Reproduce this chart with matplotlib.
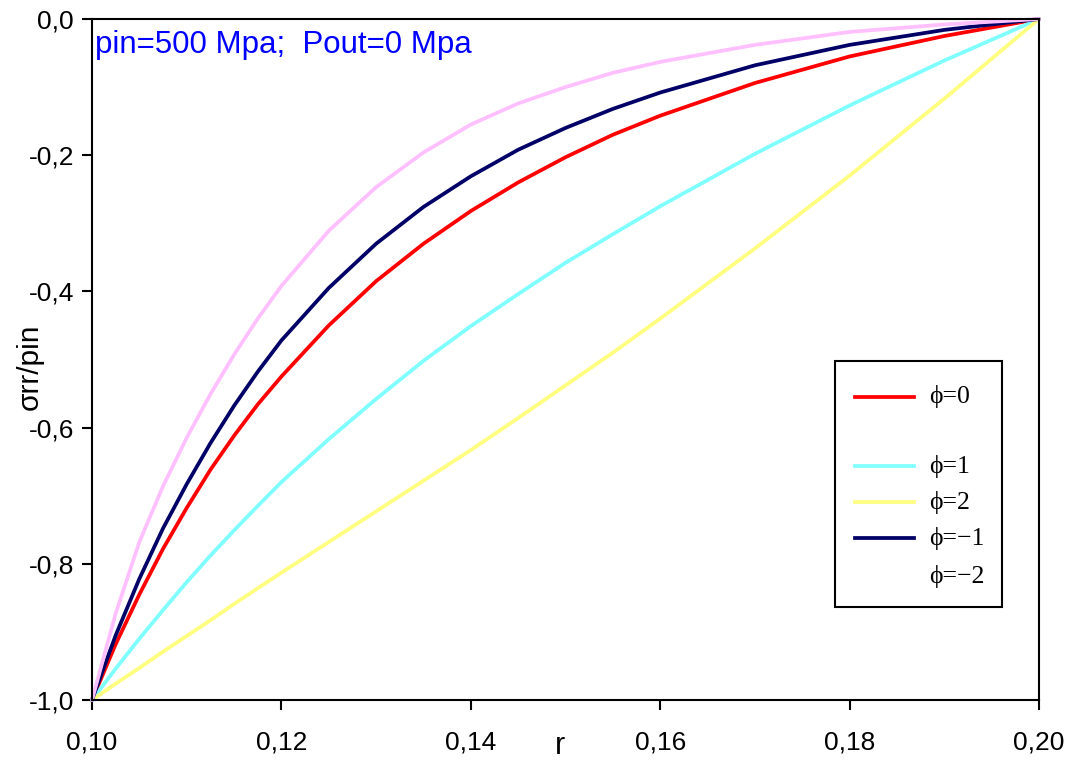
import matplotlib
matplotlib.use("Agg")
import matplotlib.pyplot as plt
from matplotlib.lines import Line2D
from matplotlib.patches import Rectangle

# ---- data ----
r = [0.100, 0.1025, 0.105, 0.1075, 0.110, 0.1125, 0.115, 0.1175, 0.120,
     0.125, 0.130, 0.135, 0.140, 0.145, 0.150, 0.155, 0.160,
     0.170, 0.180, 0.190, 0.200]
phi_0 = [-1.0, -0.918, -0.845, -0.778, -0.718, -0.662, -0.612, -0.566, -0.525,
         -0.450, -0.385, -0.330, -0.282, -0.240, -0.203, -0.170, -0.142,
         -0.094, -0.055, -0.025, 0.0]
phi_1 = [-1.0, -0.954, -0.910, -0.868, -0.827, -0.788, -0.751, -0.715, -0.680,
         -0.617, -0.558, -0.502, -0.451, -0.404, -0.358, -0.316, -0.275,
         -0.198, -0.127, -0.061, 0.0]
phi_2 = [-1.0, -0.976, -0.953, -0.929, -0.906, -0.883, -0.859, -0.836, -0.813,
         -0.768, -0.723, -0.678, -0.633, -0.586, -0.538, -0.490, -0.440,
         -0.337, -0.230, -0.117, 0.0]
phi_m1 = [-1.0, -0.905, -0.822, -0.748, -0.683, -0.623, -0.568, -0.518, -0.472,
          -0.395, -0.330, -0.276, -0.231, -0.192, -0.160, -0.132, -0.108,
          -0.068, -0.038, -0.016, 0.0]
phi_m2 = [-1.0, -0.873, -0.768, -0.686, -0.615, -0.551, -0.493, -0.440, -0.392,
          -0.311, -0.247, -0.196, -0.155, -0.124, -0.100, -0.079, -0.063,
          -0.038, -0.019, -0.008, 0.0]

series_labels = ["ϕ=0", "ϕ=1", "ϕ=2", "ϕ=−1", "ϕ=−2"]
series_values = [phi_0, phi_1, phi_2, phi_m1, phi_m2]
series_colors = ["#FF0000", "#80FFFF", "#FFFF80", "#000066", "#FFC0FF"]

x_ticks = [0.10, 0.12, 0.14, 0.16, 0.18, 0.20]
x_tick_labels = ["0,10", "0,12", "0,14", "0,16", "0,18", "0,20"]
y_ticks = [-1.0, -0.8, -0.6, -0.4, -0.2, 0.0]
y_tick_labels = ["-1,0", "-0,8", "-0,6", "-0,4", "-0,2", "0,0"]

title_text = "pin=500 Mpa;  Pout=0 Mpa"

# ---- figure ----
W, H = 1068, 760
fig = plt.figure(figsize=(W / 100, H / 100), dpi=100)
fig.patch.set_facecolor("white")

def fx(px):
    return px / W

def fy(py):
    return 1 - py / H

L, R, T, B = 92, 1039, 19, 700
ax = fig.add_axes([fx(L), fy(B), fx(R) - fx(L), fy(T) - fy(B)])

sans = ["Liberation Sans", "DejaVu Sans"]
serif = ["Liberation Serif", "DejaVu Serif"]

for vals, col in zip(series_values, series_colors):
    ax.plot(r, vals, color=col, lw=2.7, solid_capstyle="round",
            solid_joinstyle="round", clip_on=False)

ax.set_xlim(0.10, 0.20)
ax.set_ylim(-1.0, 0.0)
ax.set_xticks(x_ticks)
ax.set_xticklabels(x_tick_labels, family=sans, fontsize=19)
ax.set_yticks(y_ticks)
ax.set_yticklabels(y_tick_labels, family=sans, fontsize=19)
ax.tick_params(axis="both", direction="out", length=7, width=1.5, color="black")
ax.tick_params(axis="x", pad=15)
ax.tick_params(axis="y", pad=6)
for s in ax.spines.values():
    s.set_linewidth(1.5)
    s.set_color("black")

ax.text((95 - L) / (R - L), 1 - (53 - T) / (B - T), title_text, transform=ax.transAxes,
        ha="left", va="baseline", color="#0000FF", family=sans, fontsize=22.5)

ax.set_ylabel("σrr/pin", family=sans, fontsize=21.5)
ax.yaxis.set_label_coords((30 - L) / (R - L), 1 - (367 - T) / (B - T))
ax.yaxis.label.set_va("center")
ax.set_xlabel("r", family=sans, fontsize=22)
ax.xaxis.set_label_coords((560 - L) / (R - L), 1 - (754 - T) / (B - T))
ax.xaxis.label.set_va("baseline")

# ---- legend box ----
bx0, by0, bx1, by1 = 835, 361, 1002, 607
fig.add_artist(Rectangle((fx(bx0), fy(by1)), fx(bx1) - fx(bx0), fy(by0) - fy(by1),
                         transform=fig.transFigure, facecolor="white",
                         edgecolor="black", lw=1.5, zorder=5))
entry_y = [397, 466, 502, 538, 577]
show_line = [True, True, True, True, False]
for lab, col, yy, sl in zip(series_labels, series_colors, entry_y, show_line):
    if sl:
        fig.add_artist(Line2D([fx(855), fx(914)], [fy(yy), fy(yy)], color=col, lw=2.7,
                              transform=fig.transFigure, zorder=6))
    fig.text(fx(929), fy(yy), lab, ha="left", va="center", family=serif,
             fontsize=18.5, color="black", zorder=7)

fig.savefig("out.png", dpi=100, facecolor="white")
